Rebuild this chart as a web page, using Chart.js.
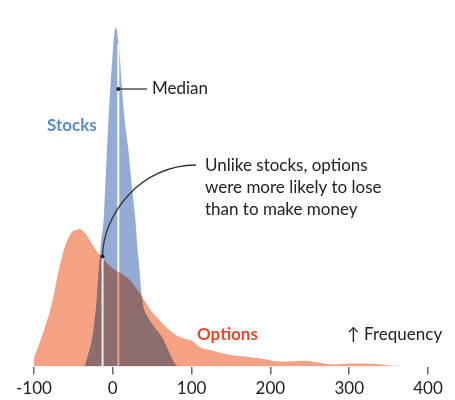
<!DOCTYPE html>
<html>
<head>
<meta charset="utf-8">
<script src="https://cdn.jsdelivr.net/npm/chart.js@4.4.1/dist/chart.umd.min.js"></script>
<style>
  html, body { margin: 0; padding: 0; background: #fff; }
</style>
</head>
<body>
<canvas id="returnsChart" width="455" height="400"></canvas>
<script>
// return, % (x) and relative frequency (stocks peak = 100)
const stockReturns = [-40, -36, -31, -26, -21, -18, -15, -11.5, -9.5, -7.5, -5.5, -3, 0, 3.5, 8.5, 11.5, 15, 20, 24, 28.5, 31, 34, 36.5, 39, 43, 55, 63, 70, 76, 81, 85];
const stockFreq = [0, 0.3, 3.8, 8.7, 18.4, 28.3, 36.4, 43.7, 53.4, 63.3, 72.9, 82.5, 92.4, 100, 92.4, 82.5, 72.9, 63.3, 53.4, 43.7, 35.9, 28.3, 21.3, 17.5, 15.2, 11, 8.5, 5, 2, 0.3, 0];

const optionReturns = [-100, -97, -93, -89, -85, -80, -76, -72, -68, -64, -60, -55, -50, -45, -42, -38, -34, -30, -25, -20, -14, -7, 0, 6, 15, 22, 28, 36, 44, 50, 57, 65, 72, 78, 85, 92, 100, 110, 127, 148, 170, 190, 210, 225, 245, 260, 280, 300, 320, 340, 365];
const optionFreq = [2.5, 4.5, 7, 9.5, 12.5, 16, 20, 24.5, 29, 32.7, 35.9, 38.5, 39.9, 40.3, 40.6, 39.9, 39.0, 37.6, 35.6, 33.8, 32.4, 30.3, 28.9, 28.0, 26.8, 25.4, 23.6, 21.0, 18.1, 16.0, 14.3, 12.2, 10.8, 9.6, 8.7, 8.2, 7.6, 5.8, 4.7, 3.5, 2.9, 2.3, 1.5, 1.5, 1.7, 1.2, 0.6, 0.9, 0.9, 0.6, 0];

// medians: stocks, options
const medianReturns = [7, -13];
const medianFreq = [95, 32.4];

const xTicks = [-100, 0, 100, 200, 300, 400];

const toPoints = (xs, ys) => xs.map((x, i) => ({x: x, y: ys[i]}));

Chart.defaults.font.family = 'Lato';

// options area is blended (multiply) over the stocks area
const blendPlugin = {
    id: 'blend',
    afterDatasetDraw(chart, args) {
        if (args.index === 1) chart.ctx.globalCompositeOperation = 'multiply';
        if (args.index === 2) chart.ctx.globalCompositeOperation = 'source-over';
    }
};

const notesPlugin = {
    id: 'notes',
    afterDraw(chart) {
        const ctx = chart.ctx;
        const xs = chart.scales.x;
        const ys = chart.scales.y;
        ctx.save();
        ctx.globalCompositeOperation = 'source-over';
        ctx.strokeStyle = '#333';
        ctx.fillStyle = '#222';
        ctx.lineWidth = 1.3;

        // median label
        const sx = xs.getPixelForValue(medianReturns[0]);
        ctx.beginPath();
        ctx.moveTo(sx, 89);
        ctx.lineTo(147, 89);
        ctx.stroke();
        ctx.beginPath();
        ctx.arc(sx, 89, 2, 0, Math.PI * 2);
        ctx.fill();

        // curved pointer to options median
        const ox = xs.getPixelForValue(medianReturns[1]);
        const oy = ys.getPixelForValue(medianFreq[1]);
        ctx.beginPath();
        ctx.moveTo(ox, oy);
        ctx.bezierCurveTo(ox, 215, 140, 165, 196, 165);
        ctx.stroke();
        ctx.beginPath();
        ctx.arc(ox, oy, 2, 0, Math.PI * 2);
        ctx.fill();

        ctx.textBaseline = 'middle';
        ctx.textAlign = 'left';
        ctx.font = '17px Lato';
        ctx.fillText('Median', 152, 89);
        ctx.fillText('↑ Frequency', 347, 335);

        ctx.textBaseline = 'alphabetic';
        ctx.fillText('Unlike stocks, options', 205, 171);
        ctx.fillText('were more likely to lose', 205, 193);
        ctx.fillText('than to make money', 205, 215);

        ctx.textBaseline = 'middle';
        ctx.font = 'bold 17px Lato';
        ctx.fillStyle = '#5b8cc2';
        ctx.fillText('Stocks', 47, 126);
        ctx.fillStyle = '#e8472f';
        ctx.fillText('Options', 197, 335);
        ctx.restore();
    }
};

const data = {
    datasets: [
        {
            label: 'Stocks',
            data: toPoints(stockReturns, stockFreq),
            backgroundColor: '#94acd4',
            borderColor: 'transparent',
            borderWidth: 0,
            fill: 'origin',
            pointRadius: 0,
            cubicInterpolationMode: 'monotone',
            order: 4
        },
        {
            label: 'Stocks median',
            data: [{x: medianReturns[0], y: 0}, {x: medianReturns[0], y: medianFreq[0]}],
            borderColor: 'rgba(255,255,255,0.92)',
            borderWidth: 2,
            fill: false,
            pointRadius: 0,
            order: 3
        },
        {
            label: 'Options',
            data: toPoints(optionReturns, optionFreq),
            backgroundColor: '#f4a184',
            borderColor: 'transparent',
            borderWidth: 0,
            fill: 'origin',
            pointRadius: 0,
            cubicInterpolationMode: 'monotone',
            order: 2
        },
        {
            label: 'Options median',
            data: [{x: medianReturns[1], y: 0}, {x: medianReturns[1], y: medianFreq[1]}],
            borderColor: '#ededed',
            borderWidth: 2,
            fill: false,
            pointRadius: 0,
            order: 1
        }
    ]
};

const config = {
    type: 'line',
    data: data,
    options: {
        responsive: false,
        animation: false,
        layout: {
            padding: {left: 34, right: 27, top: 10, bottom: -3}
        },
        plugins: {
            legend: {display: false},
            tooltip: {enabled: false}
        },
        scales: {
            x: {
                type: 'linear',
                min: -100,
                max: 400,
                afterBuildTicks: (axis) => {
                    axis.ticks = xTicks.map(v => ({value: v}));
                },
                ticks: {
                    font: {size: 17},
                    color: '#222',
                    padding: 4,
                    maxRotation: 0
                },
                grid: {
                    drawOnChartArea: false,
                    drawTicks: true,
                    tickLength: 8,
                    color: '#666',
                    lineWidth: 1.5
                },
                border: {display: false}
            },
            y: {
                display: false,
                min: 0,
                max: 105
            }
        }
    },
    plugins: [blendPlugin, notesPlugin]
};

const myChart = new Chart(
    document.getElementById('returnsChart'),
    config
);
</script>
</body>
</html>
